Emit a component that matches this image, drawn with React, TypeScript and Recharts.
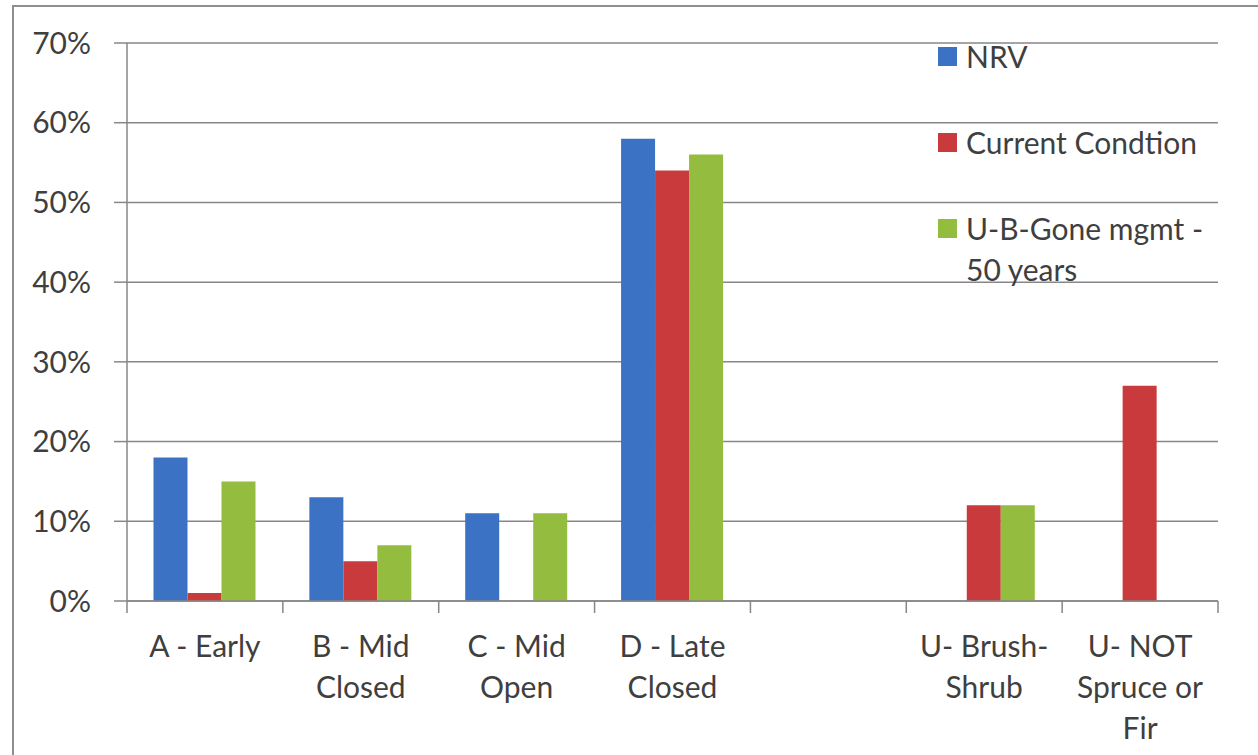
import React from "react";
import { BarChart, Bar, XAxis, YAxis, CartesianGrid } from "recharts";

// category labels (line breaks as in the original axis)
const categories = [
  "A - Early",
  "B - Mid\nClosed",
  "C - Mid\nOpen",
  "D - Late\nClosed",
  " ",
  "U- Brush-\nShrub",
  "U- NOT\nSpruce or\nFir",
];

// percent values
const nrv = [18, 13, 11, 58, null, 0, 0];
const currentCondition = [1, 5, 0, 54, null, 12, 27];
const ubGone = [15, 7, 11, 56, null, 12, 0];

const yTicks = [0, 10, 20, 30, 40, 50, 60, 70];

const series = [
  { key: "nrv", name: "NRV", color: "#3c72c4" },
  { key: "current", name: "Current Condtion", color: "#c93a3c" },
  { key: "ubGone", name: "U-B-Gone mgmt - 50 years", color: "#94bd3f" },
];

const data = categories.map((name, i) => ({
  name,
  nrv: nrv[i],
  current: currentCondition[i],
  ubGone: ubGone[i],
}));

const FONT = "Lato, 'Open Sans', sans-serif";
const TEXT = "#3f3f3f";
const LINE = "#878787";

function CategoryTick(props: any) {
  const { x, y, payload, index, visibleTicksCount } = props;
  const lines = String(payload.value).split("\n");
  const half = payload.offset || 0;
  const last = index === visibleTicksCount - 1;
  return (
    <g>
      <line x1={x - half} x2={x - half} y1={y} y2={y + 12} stroke={LINE} strokeWidth={1.5} />
      {last && <line x1={x + half} x2={x + half} y1={y} y2={y + 12} stroke={LINE} strokeWidth={1.5} />}
      <text x={x} y={y} textAnchor="middle" fill={TEXT} fontSize={30} fontFamily={FONT}>
        {lines.map((l, i) => (
          <tspan key={i} x={x} y={y + 56 + i * 41}>
            {l}
          </tspan>
        ))}
      </text>
    </g>
  );
}

function ChartLegend() {
  return (
    <div style={{ position: "absolute", left: 938, top: 36, fontFamily: FONT, fontSize: 30, color: TEXT, lineHeight: "41px" }}>
      {series.map((s) => (
        <div key={s.key} style={{ display: "flex", alignItems: "flex-start", marginBottom: 45 }}>
          <span style={{ width: 19, height: 19, background: s.color, marginTop: 11, marginRight: 9, flex: "none" }} />
          <span style={{ width: 262 }}>{s.name}</span>
        </div>
      ))}
    </div>
  );
}

export default function App() {
  return (
    <div style={{ position: "absolute", left: 0, top: 0, width: 1258, height: 755, overflow: "hidden", background: "#fff" }}>
      <div style={{ position: "absolute", left: 12, top: 5, width: 1300, height: 800, border: "2px solid #8f8f8f" }} />
      <div style={{ position: "absolute", left: 0, top: 0 }}>
        <BarChart
          width={1258}
          height={755}
          data={data}
          margin={{ top: 43, right: 40, left: 0, bottom: 0 }}
          barGap={0}
          barCategoryGap="17%"
        >
          <CartesianGrid vertical={false} stroke={LINE} strokeWidth={1.5} />
          <XAxis
            dataKey="name"
            height={154}
            interval={0}
            axisLine={{ stroke: LINE, strokeWidth: 1.5 }}
            tickLine={false}
            tickSize={0}
            tickMargin={0}
            tick={<CategoryTick />}
          />
          <YAxis
            width={127}
            domain={[0, 70]}
            ticks={yTicks}
            interval={0}
            tickFormatter={(v: number) => `${v}%`}
            axisLine={{ stroke: LINE, strokeWidth: 1.5 }}
            tickLine={{ stroke: LINE, strokeWidth: 1.5 }}
            tickSize={13}
            tickMargin={23}
            tick={{ fill: TEXT, fontSize: 30, fontFamily: FONT }}
          />
          {series.map((s) => (
            <Bar key={s.key} dataKey={s.key} name={s.name} fill={s.color} isAnimationActive={false} />
          ))}
        </BarChart>
      </div>
      <ChartLegend />
    </div>
  );
}
